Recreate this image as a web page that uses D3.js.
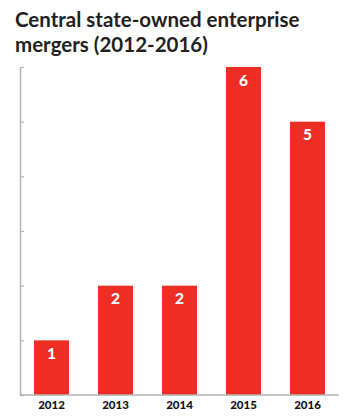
<!DOCTYPE html>
<html>
<head>
<meta charset="utf-8">
<script src="https://cdn.jsdelivr.net/npm/d3@7"></script>
<style>
  body { margin: 0; background: #fff; }
  svg { display: block; }
</style>
</head>
<body>
<div id="chart"></div>
<script>
const years = ['2012', '2013', '2014', '2015', '2016'];
const mergers = [1, 2, 2, 6, 5];
const yTicks = [0, 1, 2, 3, 4, 5, 6];
const titleLines = ['Central state-owned enterprise', 'mergers (2012-2016)'];

const w = 353, h = 418;
const plotLeft = 20, plotRight = 339, plotTop = 67, plotBottom = 395;
const barColor = '#ee2e24',
    axisColor = '#b3b3b3';

const svg = d3.select('#chart')
    .append('svg')
    .attr('width', w)
    .attr('height', h);

svg.append('g')
    .selectAll('text')
    .data(titleLines)
    .enter()
    .append('text')
    .attr('x', 15)
    .attr('y', (d, i) => 27 + i * 25)
    .attr('font-family', 'Lato, sans-serif')
    .attr('font-weight', 700)
    .attr('font-size', 20.5)
    .attr('fill', '#231f20')
    .text(d => d);

const x = d3.scaleBand()
    .domain(years)
    .range([plotLeft, plotRight])
    .paddingInner(0.453)
    .paddingOuter(0.219);

const y = d3.scaleLinear()
    .domain([0, 6])
    .range([plotBottom, plotTop]);

const chart = svg.append('g');

// y axis with inward ticks
const yAxis = chart.append('g')
    .attr('transform', `translate(${plotLeft},0)`)
    .call(d3.axisRight(y).tickValues(yTicks).tickSize(4).tickSizeOuter(0).tickFormat(''));
yAxis.select('.domain').attr('stroke', axisColor).attr('stroke-width', 1.5);
yAxis.selectAll('.tick line').attr('stroke', axisColor).attr('stroke-width', 1.2);

chart.selectAll('.bar')
    .data(mergers)
    .enter()
    .append('rect')
    .attr('class', 'bar')
    .attr('x', (d, i) => x(years[i]))
    .attr('width', x.bandwidth())
    .attr('y', d => y(d))
    .attr('height', d => y(0) - y(d))
    .attr('fill', barColor);

chart.selectAll('.bar-label')
    .data(mergers)
    .enter()
    .append('text')
    .attr('class', 'bar-label')
    .attr('x', (d, i) => x(years[i]) + x.bandwidth() / 2)
    .attr('y', d => y(d) + 18.5)
    .attr('text-anchor', 'middle')
    .attr('font-family', 'Lato, sans-serif')
    .attr('font-weight', 900)
    .attr('font-size', 15.5)
    .attr('fill', '#fff')
    .text(d => d);

// x axis
const xAxis = chart.append('g')
    .attr('transform', `translate(0,${plotBottom})`)
    .call(d3.axisBottom(x).tickSize(0).tickPadding(6));
xAxis.select('.domain').attr('stroke', axisColor).attr('stroke-width', 1.5)
    .attr('d', `M${plotLeft},0H${plotRight}`);
xAxis.selectAll('.tick text')
    .attr('font-family', 'Lato, sans-serif')
    .attr('font-weight', 900)
    .attr('font-size', 11.5)
    .attr('fill', '#111')
    .attr('dy', '0.71em');
</script>
</body>
</html>
